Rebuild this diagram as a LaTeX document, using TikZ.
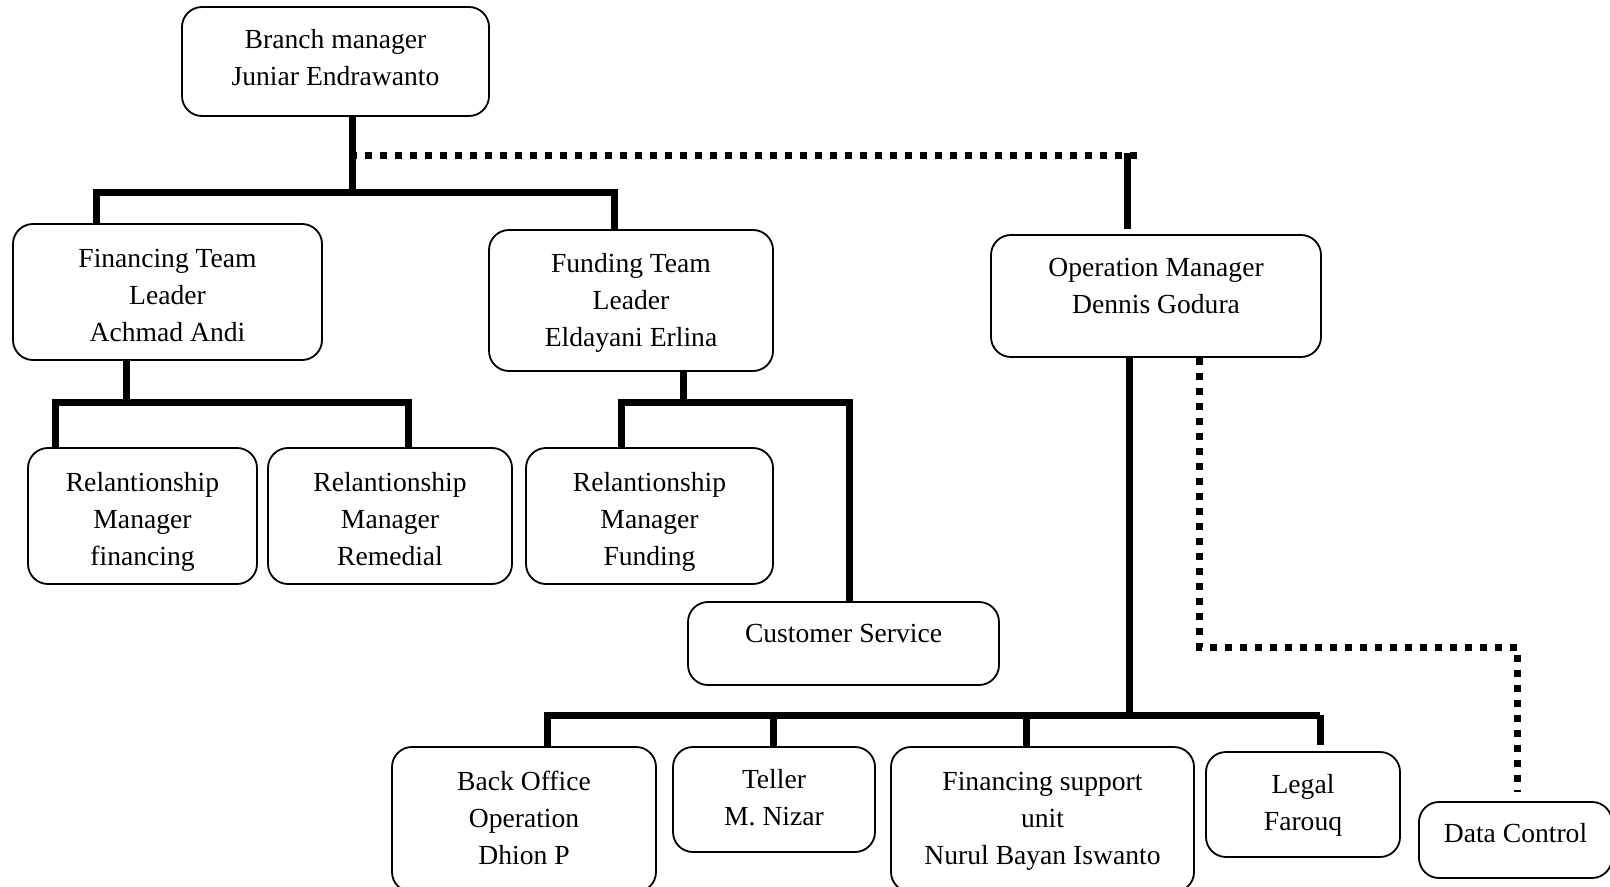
\documentclass[tikz,border=0pt]{standalone}
\usepackage{fontspec}
\setmainfont{Liberation Serif}
% box name, centre x, centre y, width, height, text centre y, text
\newcommand\unitbox[7]{%
  \node[box, minimum width=#4*0.5pt, minimum height=#5*0.5pt] (#1) at (#2,#3) {};
  \node[caption] (#1-text) at (#2,#6) {#7};}
\begin{document}
\begin{tikzpicture}[x=0.5pt,y=-0.5pt,
  box/.style={draw, line width=0.9pt, rounded corners=10pt, inner sep=0pt},
  caption/.style={align=center, inner sep=0pt, font=\fontsize{13.8pt}{18.5pt}\selectfont},
  tree/.style={line width=3.5pt},
  dotline/.style={line width=3.5pt, dash pattern=on 3.5pt off 4pt}]

\useasboundingbox (0,0) rectangle (1610,887);
\clip (0,0) rectangle (1610,887);
\fill[white] (0,0) rectangle (1610,887);

% units
\unitbox{bm}{335.5}{61.5}{307}{109}{58}{Branch manager\\Juniar Endrawanto}
\unitbox{ftl}{167.5}{292}{309}{136}{295}{Financing Team\\Leader\\Achmad Andi}
\unitbox{fund}{631}{300.5}{284}{141}{302.5}{Funding Team\\Leader\\Eldayani Erlina}
\unitbox{om}{1156}{296}{330}{122}{286}{Operation Manager\\Dennis Godura}
\unitbox{rmf}{142.5}{516}{229}{136}{522}{Relantionship\\Manager\\financing}
\unitbox{rmr}{390}{516}{244}{136}{519}{Relantionship\\Manager\\Remedial}
\unitbox{rmfu}{649.5}{516}{247}{136}{522}{Relantionship\\Manager\\Funding}
\unitbox{cs}{843.5}{643.5}{311}{83}{633}{Customer Service}
\unitbox{bo}{524}{819.5}{264}{145}{818}{Back Office\\Operation\\Dhion P}
\unitbox{tel}{774}{799.5}{202}{105}{797.5}{Teller\\M. Nizar}
\unitbox{fs}{1042.5}{819.5}{303}{145}{821.5}{Financing support\\unit\\Nurul Bayan Iswanto}
\unitbox{leg}{1303}{804.5}{194}{105}{805.5}{Legal\\Farouq}
\unitbox{dc}{1515.5}{840}{193}{76}{833}{Data Control}

% junction points
\coordinate (t1) at (352,193);
\coordinate (t1L) at (96,193);
\coordinate (t1R) at (614,193);
\coordinate (s1) at (350,156);
\coordinate (s2) at (1137,156);
\coordinate (omin) at (1127,153);
\coordinate (t2) at (126,402);
\coordinate (t2L) at (55,402);
\coordinate (t2R) at (408,402);
\coordinate (t3) at (683,402);
\coordinate (t3L) at (621,402);
\coordinate (t3R) at (849,402);
\coordinate (t4) at (1129,715);
\coordinate (t4L) at (547,715);
\coordinate (t4R) at (1320,715);
\coordinate (t4a) at (773,715);
\coordinate (t4b) at (1026,715);
\coordinate (d1) at (1199,647);
\coordinate (d2) at (1517,647);

% branch manager to team leaders
\draw[tree] (bm.south -| t1) -- (t1);
\draw[tree] (ftl.north -| t1L) -- (t1L) -- (t1R) -- (fund.north -| t1R);

% branch manager to operation manager
\draw[dotline] (s1) -- (s2);
\draw[tree, shorten >=2.5pt] (omin) -- (om.north -| omin);

% financing team
\draw[tree] (ftl.south -| t2) -- (t2);
\draw[tree] (rmf.north -| t2L) -- (t2L) -- (t2R) -- (rmr.north -| t2R);

% funding team
\draw[tree] (fund.south -| t3) -- (t3);
\draw[tree] (rmfu.north -| t3L) -- (t3L) -- (t3R) -- (cs.north -| t3R);

% operations
\draw[tree] (om.south -| t4) -- (t4);
\draw[tree] (bo.north -| t4L) -- (t4L) -- (t4R);
\draw[tree, shorten >=3pt] (t4R) -- (leg.north -| t4R);
\draw[tree] (t4a) -- (tel.north -| t4a);
\draw[tree] (t4b) -- (fs.north -| t4b);

% data control
\draw[dotline, shorten >=4.5pt] (om.south -| d1) -- (d1) -- (d2) -- (dc.north -| d2);
\end{tikzpicture}
\end{document}
